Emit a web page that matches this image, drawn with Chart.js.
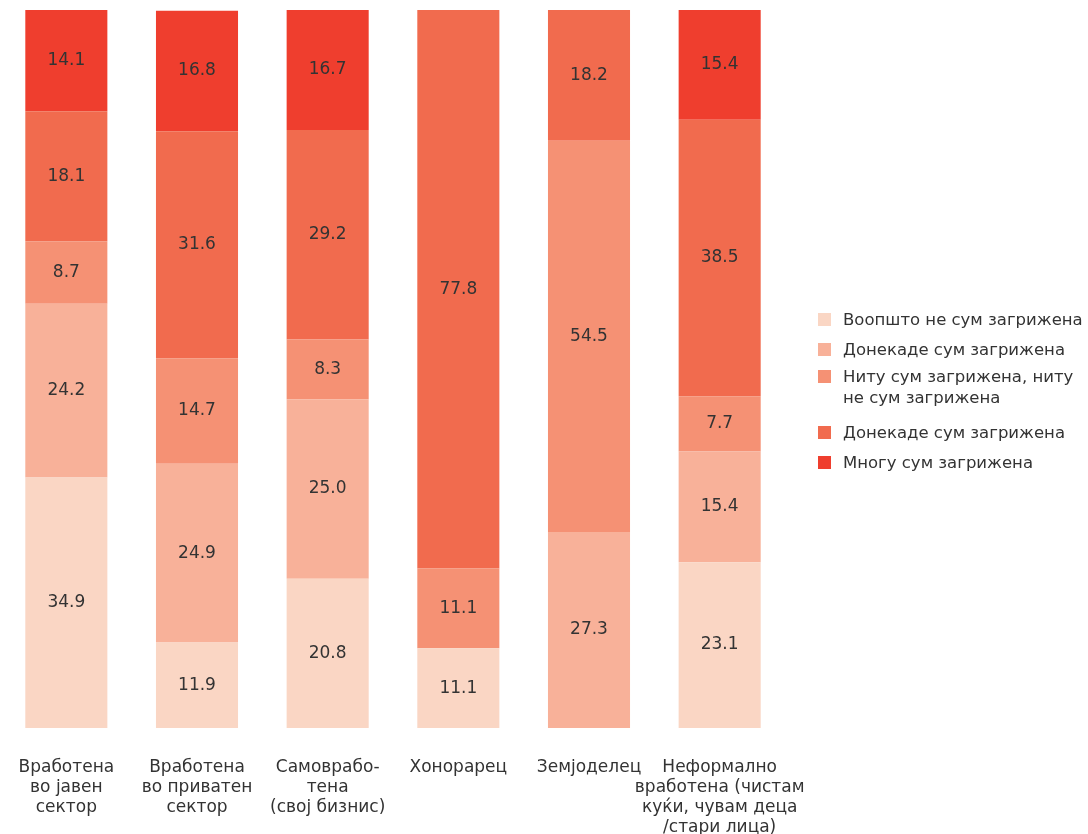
<!DOCTYPE html>
<html>
<head>
<meta charset="utf-8">
<script src="https://cdn.jsdelivr.net/npm/chart.js@4"></script>
<style>
  html, body { margin: 0; padding: 0; background: #fff; }
  #wrap { position: relative; width: 1088px; height: 834px; overflow: hidden; }
  #legend { position: absolute; left: 818px; top: 309px; font-family: 'DejaVu Sans', sans-serif; font-size: 16.5px; color: #333; white-space: nowrap; }
  .item { display: flex; align-items: flex-start; margin-bottom: 9px; line-height: 21px; }
  .sw { width: 13px; height: 13px; margin-top: 4px; margin-right: 12px; flex: none; }
</style>
</head>
<body>
<div id="wrap">
  <canvas id="chart" width="1088" height="834"></canvas>
  <div id="legend"></div>
</div>
<script>
// categories (multi-line tick labels)
const categories = [
    ['Вработена', 'во јавен', 'сектор'],
    ['Вработена', 'во приватен', 'сектор'],
    ['Самоврабо-', 'тена', '(свој бизнис)'],
    ['Хонорарец'],
    ['Земјоделец'],
    ['Неформално', 'вработена (чистам', 'куќи, чувам деца', '/стари лица)']
];

const seriesNames = [
    'Воопшто не сум загрижена',
    'Донекаде сум загрижена',
    ['Ниту сум загрижена, ниту', 'не сум загрижена'],
    'Донекаде сум загрижена',
    'Многу сум загрижена'
];
const seriesColors = ['#FAD6C4', '#F8B199', '#F59174', '#F16B4E', '#EF3E2E'];

// values per series, bottom to top
const notAtAll   = [34.9, 11.9, 20.8, 11.1, null, 23.1];
const somewhatLo = [24.2, 24.9, 25.0, null, 27.3, 15.4];
const neither    = [8.7, 14.7, 8.3, 11.1, 54.5, 7.7];
const somewhatHi = [18.1, 31.6, 29.2, 77.8, 18.2, 38.5];
const veryMuch   = [14.1, 16.8, 16.7, null, null, 15.4];
const seriesValues = [notAtAll, somewhatLo, neither, somewhatHi, veryMuch];

const FONT = "'DejaVu Sans', sans-serif";

const valueLabels = {
    id: 'valueLabels',
    afterDatasetsDraw(chart) {
        const ctx = chart.ctx;
        ctx.save();
        ctx.font = '17px ' + FONT;
        ctx.fillStyle = '#333';
        ctx.textAlign = 'center';
        ctx.textBaseline = 'middle';
        chart.data.datasets.forEach((ds, i) => {
            chart.getDatasetMeta(i).data.forEach((bar, j) => {
                const v = ds.data[j];
                if (v == null) return;
                const p = bar.getProps(['x', 'y', 'base'], true);
                ctx.fillText(v.toFixed(1), p.x, (p.y + p.base) / 2);
            });
        });
        ctx.restore();
    }
};

new Chart(document.getElementById('chart'), {
    type: 'bar',
    data: {
        labels: categories,
        datasets: seriesValues.map((vals, i) => ({
            label: Array.isArray(seriesNames[i]) ? seriesNames[i].join(' ') : seriesNames[i],
            data: vals,
            backgroundColor: seriesColors[i],
            borderWidth: 0,
            barPercentage: 1,
            categoryPercentage: 0.628
        }))
    },
    options: {
        responsive: false,
        animation: false,
        layout: { padding: { left: 1, right: 303, top: 10, bottom: 0 } },
        plugins: { legend: { display: false }, tooltip: { enabled: false } },
        scales: {
            x: {
                stacked: true,
                grid: { display: false, drawTicks: false },
                border: { display: false },
                ticks: {
                    color: '#333',
                    font: { family: FONT, size: 17, lineHeight: '20px' },
                    padding: 30,
                    maxRotation: 0,
                    autoSkip: false
                },
                afterFit(s) {
                    s.height = 106;
                    s.paddingLeft = 0;
                    s.paddingRight = 0;
                }
            },
            y: { stacked: true, display: false, min: 0, max: 100 }
        }
    },
    plugins: [valueLabels]
});

// legend
const legend = document.getElementById('legend');
seriesNames.forEach((name, i) => {
    const item = document.createElement('div');
    item.className = 'item';
    if (i === 2) item.style.marginTop = '-3px';
    if (i === 3) item.style.marginTop = '14px';
    const sw = document.createElement('div');
    sw.className = 'sw';
    sw.style.background = seriesColors[i];
    const txt = document.createElement('div');
    txt.innerHTML = Array.isArray(name) ? name.join('<br>') : name;
    item.appendChild(sw);
    item.appendChild(txt);
    legend.appendChild(item);
});
</script>
</body>
</html>
